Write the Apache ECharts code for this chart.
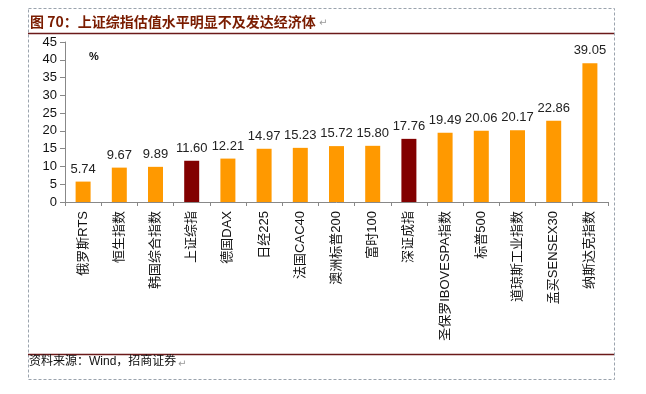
<!DOCTYPE html>
<html>
<head>
<meta charset="utf-8">
<script src="https://cdn.jsdelivr.net/npm/echarts@6/dist/echarts.min.js"></script>
<style>
html,body{margin:0;padding:0;background:#fff;}
#c{width:646px;height:394px;}
</style>
</head>
<body>
<div id="c"></div>
<script>
const categories = ['俄罗斯RTS','恒生指数','韩国综合指数','上证综指','德国DAX','日经225','法国CAC40','澳洲标普200','富时100','深证成指','圣保罗IBOVESPA指数','标普500','道琼斯工业指数','孟买SENSEX30','纳斯达克指数'];
const values = [5.74, 9.67, 9.89, 11.60, 12.21, 14.97, 15.23, 15.72, 15.80, 17.76, 19.49, 20.06, 20.17, 22.86, 39.05];
const highlighted = ['上证综指','深证成指'];
const yTicks = [0,5,10,15,20,25,30,35,40,45];

const chart = echarts.init(document.getElementById('c'), null, {renderer:'canvas'});
const font = '"Liberation Sans", "Noto Sans CJK SC", Arial, sans-serif';
chart.setOption({
  animation:false,
  textStyle:{fontFamily:font},
  grid:{left:65,right:38,top:42,bottom:192,containLabel:false},
  xAxis:{
    type:'category',
    data:categories,
    axisLine:{lineStyle:{color:'#888',width:1}},
    axisTick:{show:true,alignWithLabel:false,length:4,lineStyle:{color:'#888'}},
    axisLabel:{rotate:90,color:'#111',fontSize:13,margin:9,interval:0,fontFamily:font}
  },
  yAxis:{
    type:'value',min:yTicks[0],max:yTicks[yTicks.length-1],interval:5,
    splitLine:{show:false},
    axisLine:{show:true,lineStyle:{color:'#888'}},
    axisTick:{show:true,length:5,lineStyle:{color:'#888'}},
    axisLabel:{color:'#111',fontSize:13,margin:8,fontFamily:'"Liberation Sans", Arial, sans-serif'}
  },
  series:[{
    type:'bar',
    barWidth:15,
    data:values.map((v,i)=>({value:v,itemStyle:{color:highlighted.includes(categories[i])?'#820000':'#FF9900'}})),
    label:{show:true,position:'top',distance:6,color:'#222',fontSize:13,fontFamily:'"Liberation Sans", Arial, sans-serif',formatter:p=>p.value.toFixed(2)}
  }],
  graphic:[
    {type:'rect',shape:{x:28.5,y:8.5,width:586,height:371},style:{fill:'none',stroke:'#9aa3ad',lineWidth:1,lineDash:[3,2]}},
    {type:'line',shape:{x1:28,y1:33.5,x2:614,y2:33.5},style:{stroke:'#6b1a1a',lineWidth:1.5}},
    {type:'line',shape:{x1:28,y1:354.5,x2:614,y2:354.5},style:{stroke:'#6b1a1a',lineWidth:1.5}},
    {type:'text',x:30,y:15,style:{text:'图 70：上证综指估值水平明显不及发达经济体',fill:'#7a1c00',font:'bold 14px "Noto Sans CJK SC", sans-serif'}},
    {type:'text',x:319,y:18,style:{text:'↵',fill:'#999',font:'10px "DejaVu Sans", sans-serif'}},
    {type:'text',x:89,y:51,style:{text:'%',fill:'#111',font:'bold 11px "Liberation Sans", Arial, sans-serif'}},
    {type:'text',x:29,y:356,style:{text:'资料来源：Wind，招商证券',fill:'#111',font:'12px "Liberation Sans", "Noto Sans CJK SC", sans-serif'}},
    {type:'text',x:178,y:359,style:{text:'↵',fill:'#999',font:'10px "DejaVu Sans", sans-serif'}}
  ]
});
</script>
</body>
</html>
